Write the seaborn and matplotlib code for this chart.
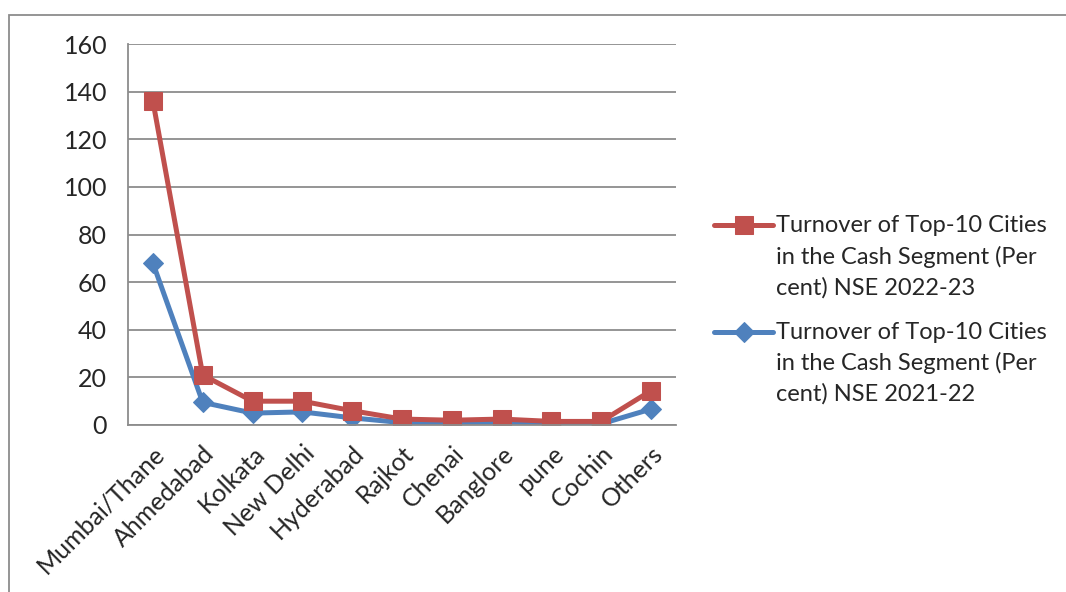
import pandas as pd
import seaborn as sns
import matplotlib.pyplot as plt
from matplotlib.patches import Rectangle
from matplotlib.legend_handler import HandlerLine2D

# values
cities = ["Mumbai/Thane", "Ahmedabad", "Kolkata", "New Delhi", "Hyderabad",
          "Rajkot", "Chenai", "Banglore", "pune", "Cochin", "Others"]
nse_2022_23 = [136, 21, 10, 10, 6, 2.5, 2, 2.5, 1.5, 1.5, 14.4]
nse_2021_22 = [68, 9.5, 5, 5.5, 3, 1, 1, 1.5, 0.5, 0.5, 6.7]
label_2022_23 = "Turnover of Top-10 Cities\nin the Cash Segment (Per\ncent) NSE 2022-23"
label_2021_22 = "Turnover of Top-10 Cities\nin the Cash Segment (Per\ncent) NSE 2021-22"
y_ticks = [0, 20, 40, 60, 80, 100, 120, 140, 160]

df = pd.DataFrame({"city": cities, "y2223": nse_2022_23, "y2122": nse_2021_22})

sns.set_style("white")
plt.rcParams["font.family"] = ["Lato", "DejaVu Sans"]

LEG_FS = 17
LINESP = 1.52
LINE_PITCH = 22.8  # points between legend text lines


class TopLineHandler(HandlerLine2D):
    # put the legend line level with the first line of a 3-line label
    def create_artists(self, legend, orig_handle, xdescent, ydescent, width,
                       height, fontsize, trans):
        return super().create_artists(legend, orig_handle, xdescent,
                                      ydescent - 2 * LINE_PITCH, width, height,
                                      fontsize, trans)


fig = plt.figure(figsize=(10.66, 5.92), dpi=100)
ax = fig.add_axes([128 / 1066, 1 - 425 / 592, (676 - 128) / 1066, (425 - 44) / 592])

red = "#C0504D"
blue = "#4F81BD"

sns.lineplot(data=df, x="city", y="y2122", ax=ax, color=blue, linewidth=3.6,
             marker="D", markersize=10, markeredgecolor=blue, sort=False,
             label=label_2021_22)
sns.lineplot(data=df, x="city", y="y2223", ax=ax, color=red, linewidth=3.6,
             marker="s", markersize=13.5, markeredgecolor=red, sort=False,
             label=label_2022_23)

ax.set_xlim(-0.5, len(cities) - 0.5)
ax.set_ylim(0, 160)
ax.set_yticks(y_ticks)
ax.yaxis.grid(True, color="#8c8c8c", linewidth=1.3)
ax.set_xlabel("")
ax.set_ylabel("")

for side in ["top", "right"]:
    ax.spines[side].set_visible(False)
for side in ["left", "bottom"]:
    ax.spines[side].set_color("#8c8c8c")
    ax.spines[side].set_linewidth(1.3)

ax.tick_params(axis="y", which="major", length=6, width=1.3, color="#8c8c8c",
               labelsize=18, pad=9)
# x ticks sit between categories, Excel style
ax.set_xticks([i - 0.5 for i in range(len(cities) + 1)], minor=True)
ax.tick_params(axis="x", which="minor", length=6, width=1.3, color="#8c8c8c")
ax.tick_params(axis="x", which="major", length=0, labelsize=18, pad=12)
ax.set_xticklabels(cities, rotation=45, ha="right", rotation_mode="anchor")

handles, labels = ax.get_legend_handles_labels()
leg = ax.legend(handles[::-1], labels[::-1], loc="center left",
                bbox_to_anchor=(693 / 1066, 1 - 310 / 592),
                bbox_transform=fig.transFigure, frameon=False, fontsize=LEG_FS,
                handlelength=2.5, handletextpad=0.1, labelspacing=1.0,
                handler_map={h: TopLineHandler() for h in handles})
for t in leg.get_texts():
    t.set_linespacing(LINESP)

# outer chart border (cropped on right/bottom)
fig.add_artist(Rectangle((9 / 1066, -0.1), 1.2, 1 - 15 / 592 + 0.1,
                         transform=fig.transFigure, fill=False,
                         edgecolor="#8c8c8c", linewidth=1.3))

fig.savefig("out.png", dpi=100)
